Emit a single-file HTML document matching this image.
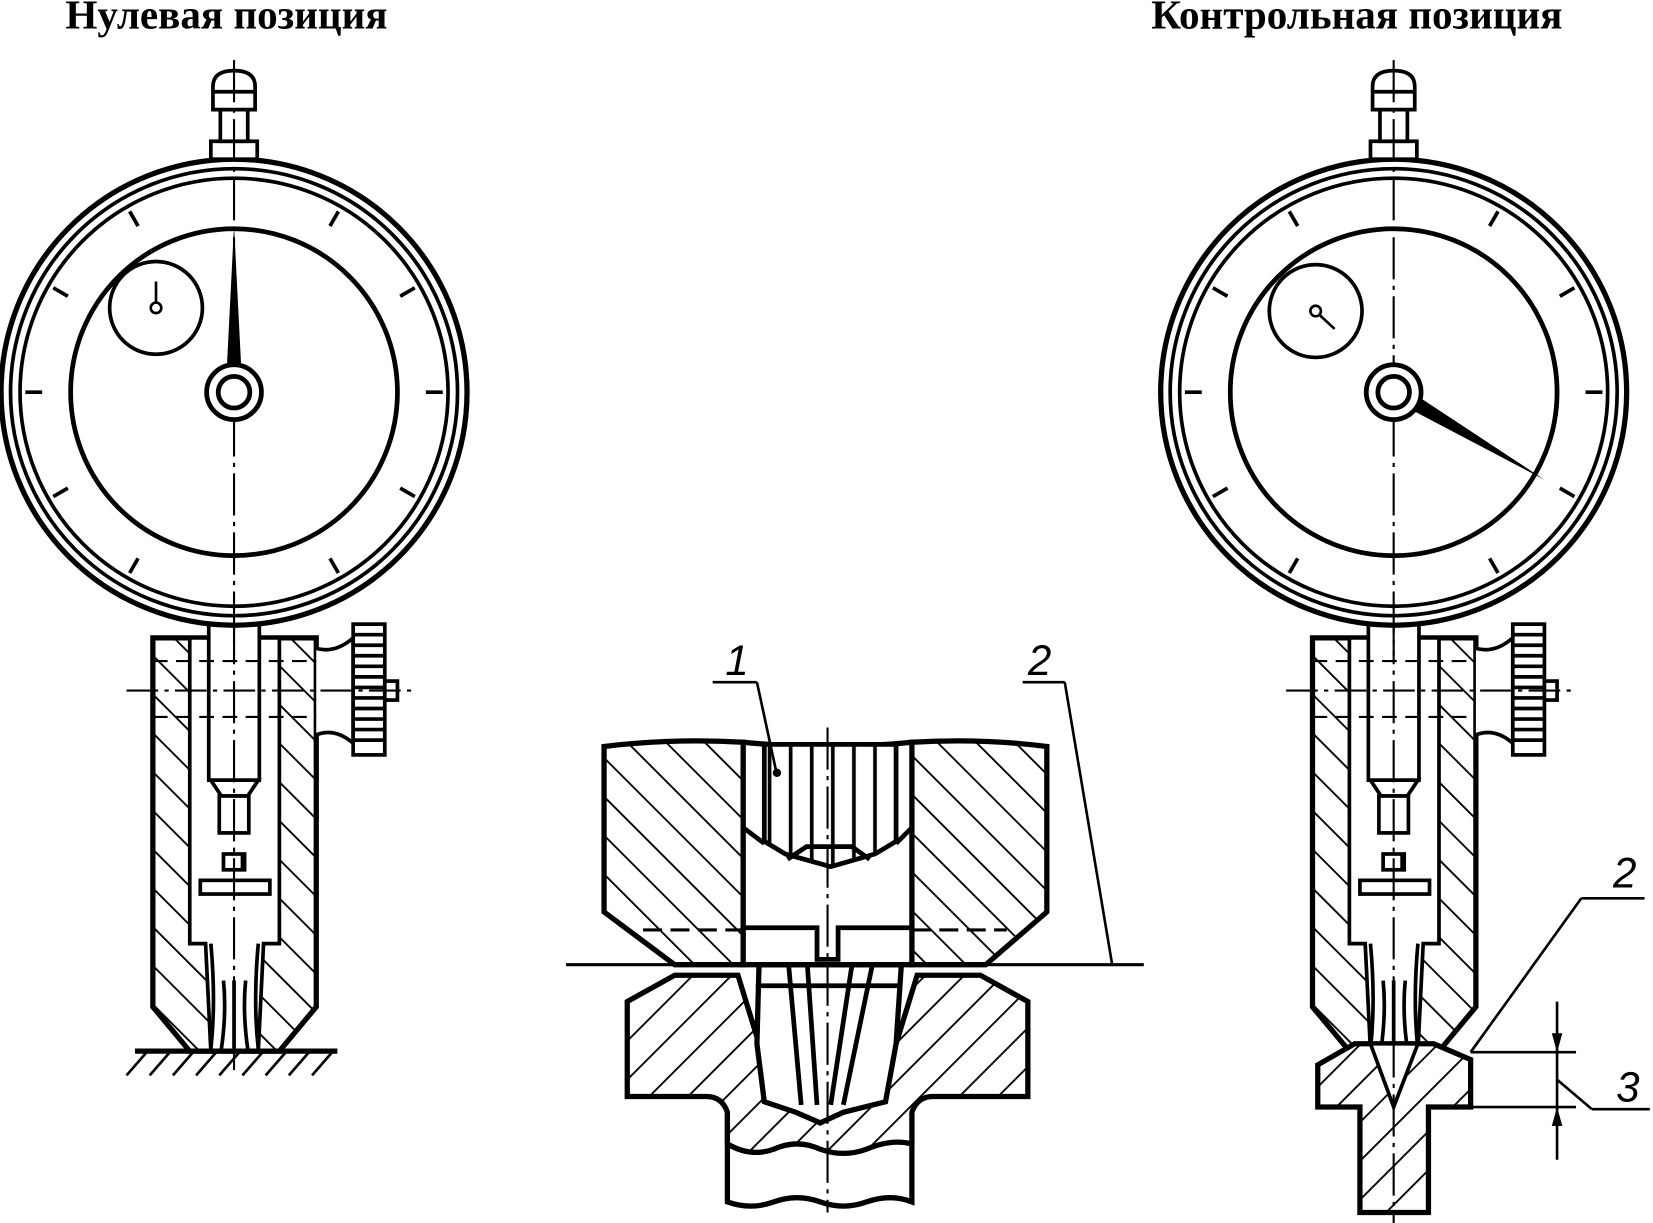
<!DOCTYPE html>
<html><head><meta charset="utf-8"><style>
html,body{margin:0;padding:0;background:#fff;}
svg{display:block;}
</style></head><body>
<svg width="1653" height="1223" viewBox="0 0 1568 1160" preserveAspectRatio="none" xmlns="http://www.w3.org/2000/svg">
<defs>
<pattern id="h2" patternUnits="userSpaceOnUse" width="26" height="26" patternTransform="rotate(45)">
<rect width="26" height="26" fill="#fff"/><line x1="0" y1="0" x2="0" y2="26" stroke="#000" stroke-width="3.5"/></pattern>
<pattern id="h" patternUnits="userSpaceOnUse" width="26" height="26" patternTransform="rotate(-45)">
<rect width="26" height="26" fill="#fff"/><line x1="0" y1="0" x2="0" y2="26" stroke="#000" stroke-width="3.5"/></pattern>
<pattern id="v" patternUnits="userSpaceOnUse" width="20" height="20">
<rect width="20" height="20" fill="#fff"/><line x1="10" y1="0" x2="10" y2="20" stroke="#000" stroke-width="3.5"/></pattern>
<g id="dial">
<circle r="221" fill="#fff" stroke="#000" stroke-width="5"/>
<circle r="212" fill="none" stroke="#000" stroke-width="3.5"/>
<circle r="203" fill="none" stroke="#000" stroke-width="3.5"/>
<circle r="155" fill="none" stroke="#000" stroke-width="4.5"/>
<g stroke="#000" stroke-width="3.5">
<line x1="0" y1="-182" x2="0" y2="-198" transform="rotate(30)"/>
<line x1="0" y1="-182" x2="0" y2="-198" transform="rotate(60)"/>
<line x1="0" y1="-182" x2="0" y2="-198" transform="rotate(90)"/>
<line x1="0" y1="-182" x2="0" y2="-198" transform="rotate(120)"/>
<line x1="0" y1="-182" x2="0" y2="-198" transform="rotate(150)"/>
<line x1="0" y1="-182" x2="0" y2="-198" transform="rotate(210)"/>
<line x1="0" y1="-182" x2="0" y2="-198" transform="rotate(240)"/>
<line x1="0" y1="-182" x2="0" y2="-198" transform="rotate(270)"/>
<line x1="0" y1="-182" x2="0" y2="-198" transform="rotate(300)"/>
<line x1="0" y1="-182" x2="0" y2="-198" transform="rotate(330)"/>
</g>
<rect x="-22" y="-238" width="44" height="17" fill="#fff" stroke="#000" stroke-width="3.5"/>
<rect x="-13" y="-268" width="26" height="30" fill="#fff" stroke="#000" stroke-width="3.5"/>
<path d="M-20,-268 V-290 Q-20,-305 0,-305 Q20,-305 20,-290 V-268 Z" fill="#fff" stroke="#000" stroke-width="3.5"/>
<line x1="-20" y1="-285" x2="20" y2="-285" stroke="#000" stroke-width="3.5"/>
<line x1="0" y1="-315" x2="0" y2="250" stroke="#000" stroke-width="2" stroke-dasharray="40,6,4,6"/>
</g>
<g id="body">
<path d="M145,605 H300 V955 L265,997 H180 L145,955 Z" fill="url(#h)" stroke="#000" stroke-width="5"/>
<path d="M180,605 H265 V895 H250 L245,997 H200 L195,895 H180 Z" fill="#fff" stroke="#000" stroke-width="3.5"/>
<rect x="198" y="592" width="48" height="148" fill="#fff" stroke="#000" stroke-width="3.5"/>
<path d="M200,740 H245 L235,755 H210 Z" fill="#fff" stroke="#000" stroke-width="3.5"/>
<rect x="208" y="755" width="28" height="35" fill="#fff" stroke="#000" stroke-width="3.5"/>
<rect x="212" y="810" width="20" height="15" fill="url(#v)" stroke="#000" stroke-width="3.5"/>
<rect x="190" y="835" width="66" height="13" fill="#fff" stroke="#000" stroke-width="3.5"/>
<path d="M200,895 Q205,950 200,995 M245,895 Q240,950 245,995 M212,930 Q215,960 210,995 M233,930 Q230,960 235,995 M222,930 V997" fill="none" stroke="#000" stroke-width="3.5"/>
<path d="M300,615 Q318,620 335,605 V705 Q318,690 300,697" fill="#fff" stroke="#000" stroke-width="3.5"/>
<rect x="335" y="592" width="30" height="124" fill="#fff" stroke="#000" stroke-width="3.5"/>
<g stroke="#000" stroke-width="3.5"><line x1="335" y1="602" x2="365" y2="602"/><line x1="335" y1="612" x2="365" y2="612"/><line x1="335" y1="622" x2="365" y2="622"/><line x1="335" y1="632" x2="365" y2="632"/><line x1="335" y1="642" x2="365" y2="642"/><line x1="335" y1="652" x2="365" y2="652"/><line x1="335" y1="662" x2="365" y2="662"/><line x1="335" y1="672" x2="365" y2="672"/><line x1="335" y1="682" x2="365" y2="682"/><line x1="335" y1="692" x2="365" y2="692"/><line x1="335" y1="702" x2="365" y2="702"/></g>
<rect x="365" y="646" width="12" height="18" fill="#fff" stroke="#000" stroke-width="3.5"/>
<line x1="120" y1="655" x2="392" y2="655" stroke="#000" stroke-width="2" stroke-dasharray="30,6,4,6"/>
<line x1="145" y1="627" x2="300" y2="627" stroke="#000" stroke-width="2" stroke-dasharray="14,8"/>
<line x1="145" y1="680" x2="300" y2="680" stroke="#000" stroke-width="2" stroke-dasharray="14,8"/>
</g>
</defs>

<text x="62" y="27" font-family="Liberation Serif, serif" font-weight="bold" font-size="39">Нулевая позиция</text>
<text x="1092" y="27" font-family="Liberation Serif, serif" font-weight="bold" font-size="39">Контрольная позиция</text>

<use href="#body"/>
<line x1="222" y1="590" x2="222" y2="1015" stroke="#000" stroke-width="2" stroke-dasharray="40,6,4,6"/>
<line x1="128" y1="997" x2="320" y2="997" stroke="#000" stroke-width="5"/>
<g stroke="#000" stroke-width="2.5"><line x1="140" y1="997" x2="120" y2="1020"/><line x1="162" y1="997" x2="142" y2="1020"/><line x1="184" y1="997" x2="164" y2="1020"/><line x1="206" y1="997" x2="186" y2="1020"/><line x1="228" y1="997" x2="208" y2="1020"/><line x1="250" y1="997" x2="230" y2="1020"/><line x1="272" y1="997" x2="252" y2="1020"/><line x1="294" y1="997" x2="274" y2="1020"/><line x1="316" y1="997" x2="296" y2="1020"/></g>
<g transform="translate(222,372)">
<use href="#dial"/>
<circle cx="-74" cy="-80" r="44" fill="#fff" stroke="#000" stroke-width="3.5"/>
<circle cx="-74" cy="-80" r="5" fill="#fff" stroke="#000" stroke-width="2.5"/>
<line x1="-74" y1="-85" x2="-74" y2="-105" stroke="#000" stroke-width="2.5"/>
<path d="M-7,-20 L0,-158 L7,-20 Z" fill="#000"/>
<circle r="26" fill="#fff" stroke="#000" stroke-width="4.5"/>
<circle r="15" fill="#fff" stroke="#000" stroke-width="4.5"/>
</g>

<g transform="translate(1100,0)"><use href="#body"/></g>
<path d="M1250,1010 L1285,990 H1360 L1395,1005 V1050 H1355 V1150 H1290 V1050 H1250 Z" fill="url(#h2)" stroke="#000" stroke-width="5"/>
<path d="M1300,990 L1322,1050 L1345,990 Z" fill="#fff" stroke="#000" stroke-width="3.5"/>
<line x1="1322" y1="590" x2="1322" y2="1160" stroke="#000" stroke-width="2" stroke-dasharray="40,6,4,6"/>
<g transform="translate(1322,372)">
<use href="#dial"/>
<circle cx="-74" cy="-77" r="44" fill="#fff" stroke="#000" stroke-width="3.5"/>
<circle cx="-74" cy="-77" r="5" fill="#fff" stroke="#000" stroke-width="2.5"/>
<line x1="-70" y1="-73" x2="-56" y2="-60" stroke="#000" stroke-width="2.5"/>
<path d="M14,-2 L143,83 L8,12 Z" fill="#000"/>
<circle r="26" fill="#fff" stroke="#000" stroke-width="4.5"/>
<circle r="15" fill="#fff" stroke="#000" stroke-width="4.5"/>
</g>
<g stroke="#000" stroke-width="2.5" fill="none">
<line x1="1395" y1="998" x2="1495" y2="998"/>
<line x1="1395" y1="1050" x2="1495" y2="1050"/>
<line x1="1477" y1="950" x2="1477" y2="1100"/>
<line x1="1395" y1="998" x2="1500" y2="852"/><line x1="1500" y1="852" x2="1560" y2="852"/>
<line x1="1477" y1="1024" x2="1510" y2="1052"/><line x1="1510" y1="1052" x2="1565" y2="1052"/>
</g>
<path d="M1477,998 l-5,-18 h10 Z M1477,1050 l-5,18 h10 Z" fill="#000"/>
<text x="1530" y="842" font-family="Liberation Sans, sans-serif" font-style="italic" font-size="40">2</text>
<text x="1533" y="1045" font-family="Liberation Sans, sans-serif" font-style="italic" font-size="40">3</text>

<path d="M690,1030 H865 V1140 Q845,1132 822,1140 Q800,1148 778,1140 Q756,1132 734,1140 Q712,1148 690,1140 Z" fill="#fff" stroke="#000" stroke-width="5"/>
<path d="M595,950 L640,925 L700,925 L720,990 L740,1045 L778,1065 L815,1045 L850,990 L870,925 L930,925 L975,950 V1040 H885 Q870,1040 865,1055 V1085 Q845,1080 822,1090 Q800,1098 778,1090 Q756,1080 734,1090 Q712,1098 690,1085 V1055 Q685,1040 670,1040 H595 Z" fill="url(#h2)" stroke="#000" stroke-width="5"/>
<path d="M720,915 H855 L850,990 L840,1045 L800,1055 L778,1065 L755,1055 L725,1045 L718,990 Z" fill="#fff" stroke="#000" stroke-width="5"/>
<g stroke="#000" stroke-width="4.5" fill="none">
<path d="M747,903 L760,1048 M765,903 L775,1048 M830,903 L800,1048 M810,903 L788,1048"/>
<line x1="717" y1="935" x2="855" y2="935"/>
</g>
<path d="M573,708 Q640,700 705,704 V915 H640 L573,865 Z" fill="url(#h)" stroke="#000" stroke-width="5"/>
<path d="M865,704 Q930,700 993,708 V865 L935,915 H865 Z" fill="url(#h)" stroke="#000" stroke-width="5"/>
<path d="M705,704 Q785,712 865,704 V915 H705 Z" fill="#fff" stroke="#000" stroke-width="5"/>
<path d="M725,706 V798 L745,810 L788,822 L830,810 L850,798 V706 Z" fill="url(#v)" stroke="#000" stroke-width="4.5"/>
<path d="M705,785 L725,800 M865,785 L850,800 M747,815 L765,803 H808 L825,815" fill="none" stroke="#000" stroke-width="4.5"/>
<path d="M705,880 H775 V910 H795 V880 H865" fill="none" stroke="#000" stroke-width="4.5"/>
<line x1="610" y1="882" x2="705" y2="882" stroke="#000" stroke-width="3" stroke-dasharray="18,8"/>
<line x1="865" y1="882" x2="955" y2="882" stroke="#000" stroke-width="3" stroke-dasharray="18,8"/>
<line x1="537" y1="915" x2="1085" y2="915" stroke="#000" stroke-width="3"/>
<line x1="785" y1="690" x2="785" y2="1150" stroke="#000" stroke-width="2" stroke-dasharray="40,6,4,6"/>
<g stroke="#000" stroke-width="2.5" fill="none">
<line x1="676" y1="647" x2="718" y2="647"/><line x1="718" y1="647" x2="737" y2="735"/>
<line x1="970" y1="647" x2="1010" y2="647"/><line x1="1010" y1="647" x2="1055" y2="915"/>
</g>
<circle cx="737" cy="733" r="4" fill="#000"/>
<text x="688" y="640" font-family="Liberation Sans, sans-serif" font-style="italic" font-size="40">1</text>
<text x="975" y="640" font-family="Liberation Sans, sans-serif" font-style="italic" font-size="40">2</text>
</svg>
</body></html>
